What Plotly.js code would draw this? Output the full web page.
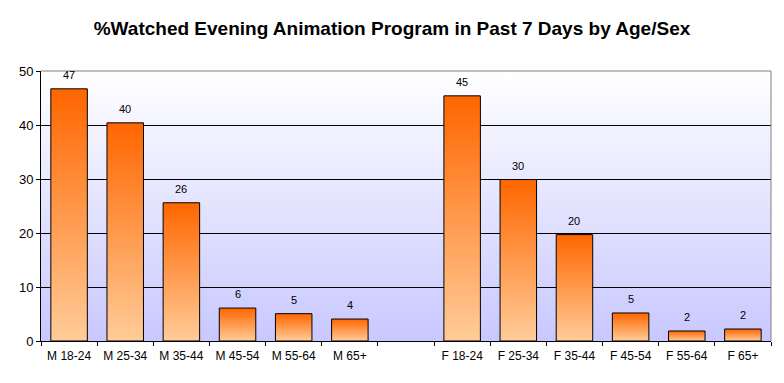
<!DOCTYPE html>
<html>
<head>
<meta charset="utf-8">
<script src="https://cdn.plot.ly/plotly-3.0.1.min.js"></script>
<style>
  html, body { margin: 0; padding: 0; background: #fff; }
  #chart { width: 784px; height: 383px; }
</style>
</head>
<body>
<div id="chart"></div>
<script>
const categories = ["M 18-24", "M 25-34", "M 35-44", "M 45-54", "M 55-64", "M 65+", " ",
                    "F 18-24", "F 25-34", "F 35-44", "F 45-54", "F 55-64", "F 65+"];
const values = [46.7, 40.4, 25.6, 6.1, 5.06, 4.07, null, 45.4, 29.9, 19.7, 5.19, 1.85, 2.22];
const yTicks = [0, 10, 20, 30, 40, 50];
const chartTitle = "%Watched Evening Animation Program in Past 7 Days by Age/Sex";

const trace = {
  type: "bar",
  x: categories,
  y: values,
  marker: { color: "#FF8040", line: { color: "#000", width: 1 } },
  hoverinfo: "x+y"
};

const valueLabels = [];
categories.forEach(function (c, i) {
  if (values[i] === null) return;
  valueLabels.push({
    x: c, y: values[i], xref: "x", yref: "y",
    text: String(Math.round(values[i])),
    showarrow: false, yanchor: "bottom", yshift: 6,
    font: { family: "Liberation Sans, Arial, sans-serif", size: 11, color: "#000" }
  });
});

const layout = {
  width: 784,
  height: 383,
  margin: { l: 41, r: 13, t: 71, b: 42 },
  paper_bgcolor: "#ffffff",
  plot_bgcolor: "#E6E6FF",
  bargap: 0.35,
  showlegend: false,
  font: { family: "Liberation Sans, Arial, sans-serif", color: "#000" },
  title: {
    text: "<b>" + chartTitle + "</b>",
    font: { family: "Liberation Sans, Arial, sans-serif", size: 19, color: "#000" },
    x: 0.5, xanchor: "center", y: 0.927, yanchor: "middle"
  },
  xaxis: {
    type: "category",
    categoryorder: "array",
    categoryarray: categories,
    tickson: "boundaries",
    ticks: "outside",
    ticklen: 4,
    tickcolor: "#000",
    showline: true,
    linecolor: "#000",
    linewidth: 1,
    showgrid: false,
    tickfont: { size: 12, color: "#000" },
    fixedrange: true
  },
  yaxis: {
    range: [0, 50],
    tickvals: yTicks,
    ticks: "outside",
    ticklen: 4,
    tickcolor: "#000",
    showline: true,
    linecolor: "#000",
    linewidth: 1,
    showgrid: true,
    gridcolor: "#000",
    gridwidth: 1,
    zeroline: false,
    tickfont: { size: 13, color: "#000" },
    fixedrange: true
  },
  annotations: valueLabels,
  shapes: [
    { type: "line", xref: "paper", yref: "paper", x0: 0, x1: 1, y0: 1, y1: 1,
      line: { color: "#808080", width: 1 } },
    { type: "line", xref: "paper", yref: "paper", x0: 1, x1: 1, y0: 0, y1: 1,
      line: { color: "#808080", width: 1 } }
  ]
};

function decorate(gd) {
  const ns = "http://www.w3.org/2000/svg";
  const svg = gd.querySelector(".main-svg");
  let defs = svg.querySelector("defs");
  if (!defs) { defs = document.createElementNS(ns, "defs"); svg.insertBefore(defs, svg.firstChild); }
  function grad(id, top, bottom) {
    if (document.getElementById(id)) return;
    const g = document.createElementNS(ns, "linearGradient");
    g.setAttribute("id", id);
    g.setAttribute("x1", "0"); g.setAttribute("y1", "0");
    g.setAttribute("x2", "0"); g.setAttribute("y2", "1");
    [[0, top], [1, bottom]].forEach(function (s) {
      const st = document.createElementNS(ns, "stop");
      st.setAttribute("offset", s[0]);
      st.setAttribute("stop-color", s[1]);
      g.appendChild(st);
    });
    defs.appendChild(g);
  }
  grad("barGrad", "#FF6600", "#FFCC99");
  grad("bgGrad", "#FFFFFF", "#C8C8FF");
  gd.querySelectorAll(".bars .point path").forEach(function (p) {
    p.style.fill = "url(#barGrad)";
  });
  const bg = gd.querySelector(".bglayer .bg");
  if (bg) bg.style.fill = "url(#bgGrad)";
  // push x tick labels a little further from the axis, as in the reference
  gd.querySelectorAll("g.xtick > text").forEach(function (t) {
    t.setAttribute("dy", "4");
  });
}

Plotly.newPlot("chart", [trace], layout, { displayModeBar: false, staticPlot: true }).then(function (gd) {
  decorate(gd);
  gd.on("plotly_afterplot", function () { decorate(gd); });
});
</script>
</body>
</html>
